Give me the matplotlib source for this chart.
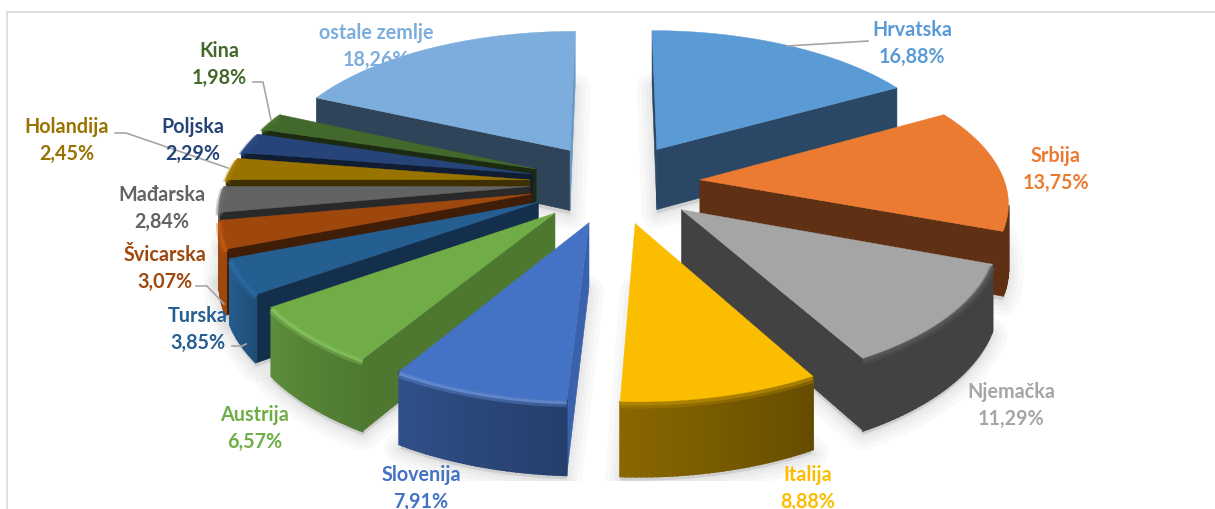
import numpy as np
import matplotlib
matplotlib.use('Agg')
import matplotlib.pyplot as plt
from matplotlib.patches import Rectangle

countries = ['Hrvatska', 'Srbija', 'Njemačka', 'Italija', 'Slovenija', 'Austrija', 'Turska',
             'Švicarska', 'Mađarska', 'Holandija', 'Poljska', 'Kina', 'ostale zemlje']
shares = [16.88, 13.75, 11.29, 8.88, 7.91, 6.57, 3.85, 3.07, 2.84, 2.45, 2.29, 1.98, 18.26]

top_colors = ['#5B9BD5', '#EB7B30', '#A5A5A5', '#FBBD00', '#4472C4', '#70AD47', '#255E91',
              '#9E480E', '#636363', '#997300', '#264478', '#43682B', '#7CADDC']
side_colors = ['#2A4865', '#5F3014', '#424242', '#8A6800', '#3A62AC', '#4E7730', '#132F4B',
               '#3F1D06', '#292929', '#3E2F00', '#0F1C31', '#1B2A11', '#2F4459']
end_wall_colors = ['#2A4865', '#5F3014', '#424242', '#8A6800', '#3A62AC', '#4E7730', '#132F4B',
                   '#3F1D06', '#292929', '#3E2F00', '#0F1C31', '#1B2A11', '#6A99C6']
bevel_colors = [None, None, '#5A5A5A', '#B78A00', '#6C96E0', '#8CCB62', '#2C6CA5',
                '#C75B12', '#707070', '#AA8000', '#2B4D88', '#4B7530', None]

# label centres in pixels, first line / second line
label_x = [912, 1056, 1011, 808, 421, 255, 198, 165, 162, 67, 193, 219, 376]
label_y = [30, 156, 392, 475, 475, 415, 316, 255, 195, 127, 127, 51, 33]

leaders = [[(787, 47), (868, 42)],
           [(253, 83), (263, 83), (271, 121)],
           [(115, 134), (126, 134), (228, 169)],
           [(196, 287), (207, 287), (224, 305)],
           [(232, 347), (242, 347), (246, 345)]]

# pie geometry
cx, cy = 615, 184
radius = 305
radius_y = 143
persp = 0.133
explode = 0.28
depth = 62

# how bright the outer wall is, by angle on the pie
shade_angle = [110, 150, 183, 211, 235, 250, 290]
shade_value = [0.40, 0.40, 0.55, 0.70, 0.82, 1.0, 1.0]


def project(u, v):
    w = 1 + persp * v
    return cx + radius * u / w, cy - radius_y * v / w, depth / w


def darker(color, f):
    r, g, b = matplotlib.colors.to_rgb(color)
    return (r * f, g * f, b * f)


def area(xs, ys):
    return np.sum(np.array(xs) * np.roll(ys, -1) - np.roll(xs, -1) * np.array(ys))


fig = plt.figure(figsize=(12.15, 5.10), dpi=100)
ax = fig.add_axes([0, 0, 1, 1])
ax.set_xlim(0, 1215)
ax.set_ylim(510, 0)
ax.axis('off')

ax.plot([7, 7, 1215], [510, 13, 13], color='#D9D9D9', lw=1.2, zorder=0)

edges = np.cumsum([0] + shares) / np.sum(shares) * 360
mids = (edges[:-1] + edges[1:]) / 2
order = np.argsort(-np.cos(np.radians(mids)))
shadow_clip = Rectangle((0, 0), 1215, 482, transform=ax.transData)

for rank, i in enumerate(order):
    z = 10 + rank * 5
    t = np.radians(np.linspace(edges[i], edges[i + 1], 40))
    m = np.radians(mids[i])
    u0, v0 = explode * np.sin(m), explode * np.cos(m)
    ax_x, ax_y, ax_d = project(u0, v0)
    arc_x, arc_y, arc_d = project(u0 + np.sin(t), v0 + np.cos(t))

    xs = np.r_[ax_x, arc_x]
    ys = np.r_[ax_y, arc_y]
    ds = np.r_[ax_d, arc_d]

    # soft shadow under the slice
    for lw in [22, 15, 9, 4]:
        s, = ax.fill(xs, ys + ds + 4, color='black', alpha=0.022, lw=lw, zorder=1, joinstyle='round')
        s.set_clip_path(shadow_clip)

    # the two straight walls
    for px, py, pd, qx, qy, qd, col in [(ax_x, ax_y, ax_d, arc_x[0], arc_y[0], arc_d[0], side_colors[i]),
                                        (arc_x[-1], arc_y[-1], arc_d[-1], ax_x, ax_y, ax_d, end_wall_colors[i])]:
        fx = [px, qx, qx, px]
        fy = [py, qy, qy + qd, py + pd]
        if area(fx, fy) < 0:
            ax.fill(fx, fy, color=col, lw=0.4, zorder=z)

    # outer wall, piece by piece so the shade can run across it
    for k in range(len(t) - 1):
        fx = [arc_x[k], arc_x[k + 1], arc_x[k + 1], arc_x[k]]
        fy = [arc_y[k], arc_y[k + 1], arc_y[k + 1] + arc_d[k + 1], arc_y[k] + arc_d[k]]
        if area(fx, fy) < 0:
            f = np.interp(np.degrees(t[k]), shade_angle, shade_value)
            ax.fill(fx, fy, color=darker(top_colors[i], f), lw=1.3, zorder=z + 1)

    ax.fill(xs, ys, color=top_colors[i], lw=0.3, zorder=z + 2)
    if bevel_colors[i] is not None:
        ax.plot(arc_x, arc_y + 3, color=bevel_colors[i], lw=5, alpha=0.35, zorder=z + 3,
                solid_capstyle='butt')
        ax.plot(arc_x, arc_y + 2, color=bevel_colors[i], lw=2.2, alpha=0.7, zorder=z + 3,
                solid_capstyle='butt')

for pts in leaders:
    ax.plot(*zip(*pts), color='#A6A6A6', lw=1.2, zorder=200)

for i, name in enumerate(countries):
    # the share of ostale zemlje sits behind its slice
    zt = 5 if name == 'ostale zemlje' else 210
    ax.text(label_x[i], label_y[i], name, color=top_colors[i], family='Lato', weight='bold',
            fontsize=14.2, ha='center', va='center', zorder=210)
    ax.text(label_x[i], label_y[i] + 26.5, f'{shares[i]:.2f}'.replace('.', ',') + '%',
            color=top_colors[i], family='Lato', weight='bold', fontsize=14.2,
            ha='center', va='center', zorder=zt)

fig.savefig('out.png', dpi=100)
